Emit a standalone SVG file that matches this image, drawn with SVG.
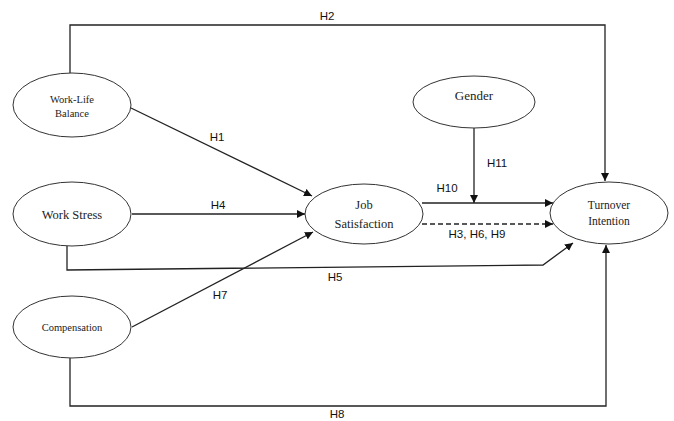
<svg xmlns="http://www.w3.org/2000/svg" width="674" height="421" viewBox="0 0 674 421">
<defs>
<marker id="arr" viewBox="0 0 10 10" refX="10" refY="5" markerWidth="8" markerHeight="8" markerUnits="userSpaceOnUse" orient="auto">
<path d="M0,0 L10,5 L0,10 z" fill="#111"/>
</marker>
</defs>
<style>
.node ellipse{fill:#fff;stroke:#333;stroke-width:1}
.node text{font-family:"Liberation Serif","Times New Roman",serif;fill:#222;text-anchor:middle}
.edge{fill:none;stroke:#222;stroke-width:1.3}
.dash{stroke-dasharray:5,3}
.lbl{font-family:"Liberation Sans",Arial,sans-serif;font-size:11.5px;fill:#111;text-anchor:middle}
</style>
<rect width="674" height="421" fill="#fff"/>
<g id="connectors">
<path class="edge" d="M70,73 V25 H605 V181" marker-end="url(#arr)"/>
<path class="edge" d="M131,108 L312,196" marker-end="url(#arr)"/>
<path class="edge" d="M132,214 L305,214" marker-end="url(#arr)"/>
<path class="edge" d="M67,246 V270 L543,265 L573,243" marker-end="url(#arr)"/>
<path class="edge" d="M132,327 L313,232" marker-end="url(#arr)"/>
<path class="edge" d="M70,358 V406 H606 V245" marker-end="url(#arr)"/>
<path class="edge" d="M422,203 L553,203" marker-end="url(#arr)"/>
<path class="edge" d="M474,128 V203" marker-end="url(#arr)"/>
<path class="edge dash" d="M422,224 L553,224" marker-end="url(#arr)"/>
<text class="lbl" x="327" y="20">H2</text>
<text class="lbl" x="217" y="141">H1</text>
<text class="lbl" x="218" y="209">H4</text>
<text class="lbl" x="335" y="281">H5</text>
<text class="lbl" x="220" y="299">H7</text>
<text class="lbl" x="337" y="418">H8</text>
<text class="lbl" x="447" y="192">H10</text>
<text class="lbl" x="497" y="167">H11</text>
<text class="lbl" x="477" y="238">H3, H6, H9</text>
</g>
<g id="wlb" class="node">
<ellipse cx="72" cy="105" rx="59" ry="32"/>
<text x="72" y="103" font-size="10.5">Work-Life</text>
<text x="72" y="117" font-size="10.5">Balance</text>
</g>
<g id="ws" class="node">
<ellipse cx="72" cy="214" rx="59" ry="32"/>
<text x="72" y="219" font-size="12.5">Work Stress</text>
</g>
<g id="comp" class="node">
<ellipse cx="72" cy="327" rx="59" ry="31"/>
<text x="72" y="331" font-size="10.5">Compensation</text>
</g>
<g id="js" class="node">
<ellipse cx="364" cy="214" rx="59" ry="30"/>
<text x="364" y="209" font-size="12.5">Job</text>
<text x="364" y="228" font-size="12.5">Satisfaction</text>
</g>
<g id="gender" class="node">
<ellipse cx="474" cy="102" rx="61" ry="26"/>
<text x="474" y="100" font-size="13">Gender</text>
</g>
<g id="ti" class="node">
<ellipse cx="609" cy="213" rx="59" ry="31"/>
<text x="609" y="209" font-size="11.5">Turnover</text>
<text x="609" y="225" font-size="11.5">Intention</text>
</g>
</svg>
